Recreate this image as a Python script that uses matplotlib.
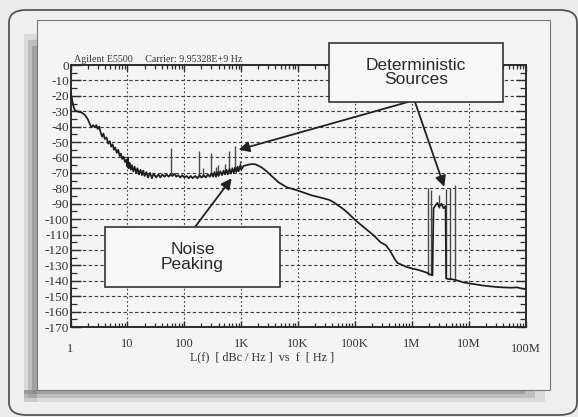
import matplotlib
matplotlib.use("Agg")
import matplotlib.pyplot as plt
from matplotlib.patches import Rectangle, FancyBboxPatch
from matplotlib.ticker import MultipleLocator, LogLocator, NullFormatter
import matplotlib.transforms as mtransforms

# phase noise trace (Hz, dBc/Hz), ten points per row
freq_hz = [1.0, 1.05, 1.1, 1.15, 1.2, 1.3, 1.45, 1.6, 1.8, 2.0,
           2.2, 2.35, 2.5, 2.7, 2.85, 3.0, 3.2, 3.4, 3.6, 3.8,
           4.0, 4.3, 4.6, 4.9, 5.2, 5.5, 5.8, 6.1, 6.5, 6.9,
           7.3, 7.7, 8.1, 8.6, 9.1, 9.6, 10.0, 10.2, 10.5, 11,
           11.5, 12, 12.7, 13.4, 14.2, 15, 16, 17, 18, 19,
           20, 21.5, 23, 25, 27, 29, 32, 35, 38, 41,
           45, 49, 53, 57, 62, 67, 72, 78, 85, 92,
           100, 110, 120, 130, 140, 155, 170, 185, 200, 220,
           240, 260, 280, 300, 320, 340, 360, 380, 400, 430,
           460, 490, 520, 550, 580, 620, 660, 700, 740, 780,
           820, 860, 900, 950, 1000, 1100, 1250, 1400, 1600, 1800,
           2000, 2300, 2700, 3200, 3800, 4500, 5500, 6500, 8000, 1e4,
           1.3e4, 1.7e4, 2.2e4, 2.8e4, 3.5e4, 4.2e4, 5e4, 6e4, 7.5e4, 1e5,
           1.3e5, 1.7e5, 2.2e5, 2.8e5, 3.5e5, 4.2e5, 5e5, 5.6e5, 6.5e5, 8e5,
           1e6, 1.3e6, 1.6e6, 1.9e6, 2.1e6, 2.3e6, 2.4e6, 2.6e6, 2.8e6, 3.0e6,
           3.3e6, 3.6e6, 3.9e6, 4.0e6, 4.5e6, 5e6, 5.8e6, 6.5e6, 8e6, 1e7,
           1.3e7, 1.7e7, 2.2e7, 3e7, 4e7, 5.5e7, 7e7, 8.5e7, 1e8]
level_dbc = [-17, -21, -25, -28, -29.5, -30, -30.5, -31, -32.5, -35,
             -38.5, -40.5, -39, -40.5, -39, -41.5, -40, -44, -46.5, -44.5,
             -48, -47, -51, -49.5, -53, -51.5, -55, -53.5, -57, -55,
             -59, -57.5, -61, -59.5, -63, -61.5, -66, -60, -67, -63.5,
             -68, -65, -69, -66, -70, -67, -71, -68, -71.5, -68.5,
             -72, -69.5, -73, -70, -73.5, -70.5, -73, -71, -73, -71,
             -72.5, -71, -72.5, -71, -72, -70.5, -72.5, -71.5, -73, -71.5,
             -73, -72, -73.5, -72, -73.5, -72, -73.5, -71.5, -73, -71.5,
             -73, -71, -72.5, -70.5, -72.5, -69.5, -72.5, -69.5, -72, -69,
             -71.5, -68.5, -71, -68, -71, -67.5, -70.5, -67, -70, -66.5,
             -69.5, -66, -69, -65.5, -68, -65.5, -65, -64.5, -64.3, -64.5,
             -65.3, -66.5, -68.5, -71, -73.5, -76, -78, -79.5, -80.5, -81.5,
             -83, -84.5, -85.5, -86.5, -87.5, -89, -91, -93, -96, -100.5,
             -104, -107.5, -111, -115, -117, -121, -126, -128.5, -129.5, -131,
             -132, -133, -134, -135, -136, -136.5, -93, -91, -89.5, -92,
             -90, -93, -91.5, -138.5, -139, -139, -139.5, -140, -141, -141.7,
             -142.3, -143, -143.5, -144, -144.3, -144.5, -144.3, -145, -145.5]

# discrete spurs (Hz, top dBc, foot dBc)
spur_freq_hz = [58, 180, 210, 300, 360, 390, 510, 600, 780, 940,
                1.95e6, 2.17e6, 2.95e6, 3.98e6, 4.73e6, 5.73e6]
spur_top_dbc = [-54, -55.5, -67, -57, -66, -65, -64, -55.5, -52.5, -62,
                -80, -81, -84.5, -80.5, -80, -78]
spur_foot_dbc = [-72, -72.5, -72.5, -71, -70, -70, -69, -68.5, -68, -67,
                 -136, -136, -93, -138, -139, -139.5]

decade_labels = ['1', '10', '100', '1K', '10K', '100K', '1M', '10M', '100M']
decade_hz = [1, 10, 100, 1e3, 1e4, 1e5, 1e6, 1e7, 1e8]
db_ticks = list(range(-170, 1, 10))

W, H = 578, 417
SERIF = ['Liberation Serif', 'DejaVu Serif']
NARROW = ['Liberation Sans Narrow', 'Liberation Sans', 'DejaVu Sans']


def fr(x0, y0, x1, y1):
    # image pixel box (top-left origin) -> figure fraction rectangle
    return x0 / W, 1 - y1 / H, (x1 - x0) / W, (y1 - y0) / H


fig = plt.figure(figsize=(W / 100, H / 100), dpi=100, facecolor='#ececec')

# page decoration: rounded outer frame, shadow, white-ish panel
x, y, w, h = fr(9, 10, 577, 415)
fig.add_artist(FancyBboxPatch((x, y), w, h, boxstyle='round,pad=0,rounding_size=0.03',
                              transform=fig.transFigure, fc='#efefef', ec='#555555',
                              lw=1.3, zorder=-5))
for i, a in enumerate([0.2, 0.35, 0.55]):
    x, y, w, h = fr(24 + 4 * i, 34 + 6 * i, 37, 402 - 4 * i)
    fig.add_artist(Rectangle((x, y), w, h, transform=fig.transFigure, fc='#8a8a8a',
                             ec='none', alpha=a, zorder=-4))
    x, y, w, h = fr(24, 390, 545 - 10 * i, 402 - 4 * i)
    fig.add_artist(Rectangle((x, y), w, h, transform=fig.transFigure, fc='#8a8a8a',
                             ec='none', alpha=a, zorder=-4))
x, y, w, h = fr(37, 20, 550, 390)
fig.add_artist(Rectangle((x, y), w, h, transform=fig.transFigure, fc='#f4f4f4',
                         ec='#777777', lw=0.8, zorder=-3))

ax = fig.add_axes(fr(70.5, 65, 525.7, 327))
ax.set_facecolor('#f4f4f4')
ax.set_xscale('log')
ax.set_xlim(1, 1e8)
ax.set_ylim(-170, 0)

ax.plot(freq_hz, level_dbc, color='#1e1e1e', lw=1.25, zorder=3)
ax.vlines(spur_freq_hz, spur_foot_dbc, spur_top_dbc, color='#4a4a4a', lw=1.0, zorder=2)

# grid
for d in db_ticks[1:-1]:
    ax.axhline(d, color='#3a3a3a', lw=0.8, ls=(0, (3, 2.2)), zorder=1)
for f in decade_hz[1:-1]:
    ax.axvline(f, color='#3a3a3a', lw=0.8, ls=(0, (1.5, 2.2)), zorder=1)

for s in ax.spines.values():
    s.set_color('#2a2a2a')
    s.set_linewidth(1.4)

ax.set_yticks(db_ticks)
ax.set_yticklabels([str(v) for v in db_ticks], family=SERIF, fontsize=9.5, color='#333333')
ax.yaxis.set_minor_locator(MultipleLocator(5))
ax.set_xticks(decade_hz)
ax.set_xticklabels([''] + decade_labels[1:-1] + [''], family=SERIF, fontsize=9,
                   color='#333333')
ax.xaxis.set_minor_locator(LogLocator(base=10, subs=range(2, 10), numticks=100))
ax.xaxis.set_minor_formatter(NullFormatter())
ax.tick_params(axis='y', which='major', direction='in', length=7, width=1.0, pad=1,
               right=True, color='#2a2a2a')
ax.tick_params(axis='y', which='minor', direction='in', length=4, width=0.9, right=True,
               color='#2a2a2a')
ax.tick_params(axis='x', which='major', direction='in', length=4, width=1.0, pad=8,
               top=True, color='#2a2a2a')
ax.tick_params(axis='x', which='minor', direction='in', length=3, width=0.9, top=True,
               color='#2a2a2a')

# end decade labels sit lower than the rest
end_tr = mtransforms.blended_transform_factory(ax.transData, ax.transAxes)
for f, lab in [(decade_hz[0], decade_labels[0]), (decade_hz[-1], decade_labels[-1])]:
    ax.text(f, -0.085, lab, transform=end_tr, ha='center', va='center',
            family=SERIF, fontsize=9, color='#333333')

fig.text(262 / W, 1 - 357 / H, 'L(f)  [ dBc / Hz ]  vs  f  [ Hz ]', ha='center', va='center',
         family=SERIF, fontsize=8.7, color='#333333')
fig.text(74 / W, 1 - 60 / H, 'Agilent E5500     Carrier: 9.95328E+9 Hz', ha='left',
         va='center', family=SERIF, fontsize=7.2, color='#333333')

# callout boxes
for (x0, y0, x1, y1), txt in [((329, 43, 503, 102), 'Deterministic\nSources'),
                              ((105, 227, 280, 287), 'Noise\nPeaking')]:
    x, y, w, h = fr(x0, y0, x1, y1)
    fig.add_artist(Rectangle((x, y), w, h, transform=fig.transFigure, fc='#f7f7f7',
                             ec='#333333', lw=1.2, zorder=10))
    fig.text(x + w / 2, y + h / 2, txt, ha='center', va='center', family=NARROW,
             fontsize=12.5, color='#2a2a2a', linespacing=1.0, zorder=11)

arrow = dict(arrowstyle='-|>', color='#222222', lw=1.3, mutation_scale=16,
             shrinkA=0, shrinkB=0)
for tip, start in [((900, -55), (408, 102)), ((3.7e6, -79), (415, 102)),
                   ((680, -73.5), (195, 227))]:
    ax.annotate('', xy=tip, xycoords='data', xytext=(start[0], H - start[1]),
                textcoords='figure pixels', arrowprops=arrow, annotation_clip=False,
                zorder=9)

fig.savefig('out.png', dpi=100, facecolor=fig.get_facecolor())
